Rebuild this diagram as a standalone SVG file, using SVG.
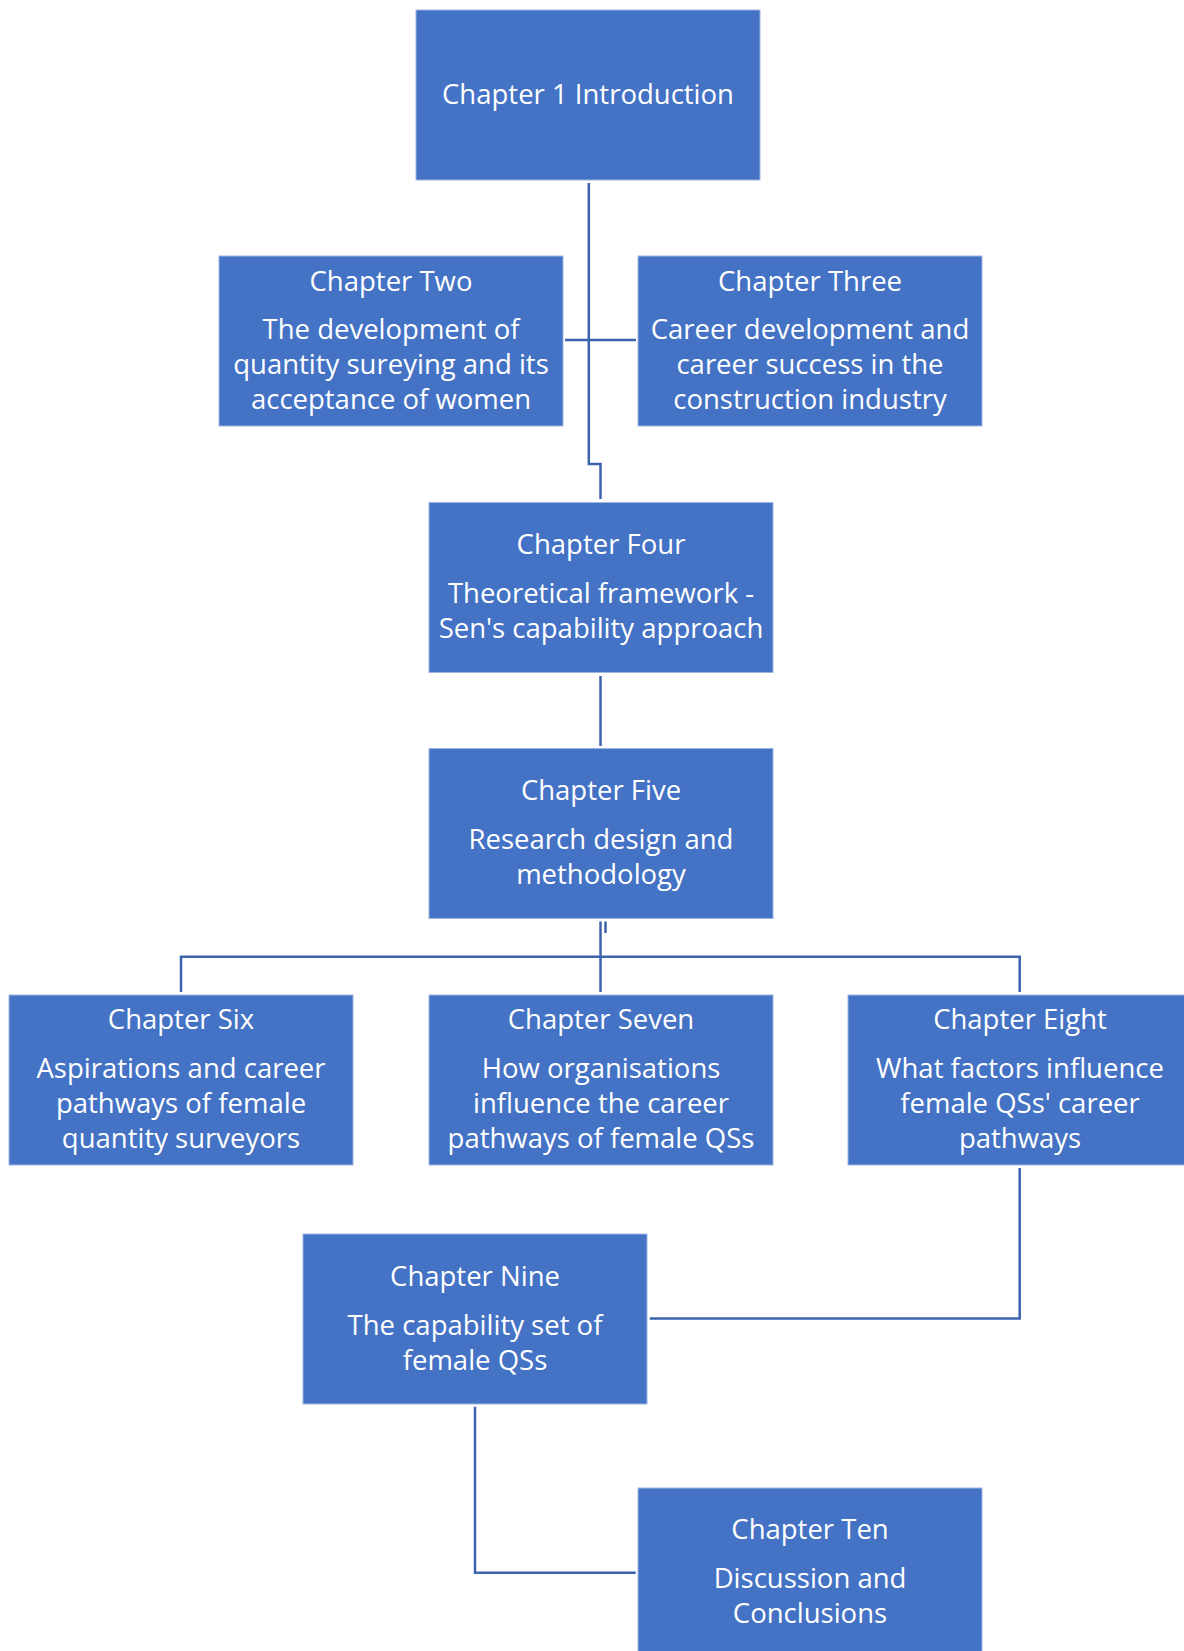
<svg xmlns="http://www.w3.org/2000/svg" width="1184" height="1651" viewBox="0 0 1184 1651">
<style>
.box{fill:#4472C4;stroke:#9DB5E2;stroke-width:1}
.t{font-family:"Open Sans","Noto Sans","Liberation Sans",sans-serif;font-size:27.5px;fill:#FFFFFF;text-anchor:middle}
.c{fill:none;stroke:#3C63AC;stroke-width:2.5}
</style>
<rect width="1184" height="1651" fill="#FFFFFF"/>
<g id="connectors">
<polyline class="c" points="588.8,183 588.8,464 600.5,464 600.5,499"/>
<line class="c" x1="565" y1="340" x2="636" y2="340"/>
<line class="c" x1="600.5" y1="676" x2="600.5" y2="746"/>
<line class="c" x1="600.5" y1="921.5" x2="600.5" y2="992"/>
<line class="c" x1="605.5" y1="921.5" x2="605.5" y2="933"/>
<polyline class="c" points="181,992 181,956.7 1019.7,956.7 1019.7,992"/>
<polyline class="c" points="1019.7,1168 1019.7,1318.5 649.8,1318.5"/>
<polyline class="c" points="475,1406.7 475,1572.7 635.7,1572.7"/>
</g>
<g id="ch1">
<rect class="box" x="416" y="10" width="344" height="170"/>
<text class="t" x="588" y="104">Chapter 1 Introduction</text>
</g>
<g id="ch2">
<rect class="box" x="219" y="256" width="344" height="170"/>
<text class="t" x="391" y="290.7">Chapter Two</text>
<text class="t" x="391" y="339.3">The development of</text>
<text class="t" x="391" y="374">quantity sureying and its</text>
<text class="t" x="391" y="409.3">acceptance of women</text>
</g>
<g id="ch3">
<rect class="box" x="638" y="256" width="344" height="170"/>
<text class="t" x="810" y="290.7">Chapter Three</text>
<text class="t" x="810" y="339.3">Career development and</text>
<text class="t" x="810" y="374">career success in the</text>
<text class="t" x="810" y="409.3">construction industry</text>
</g>
<g id="ch4">
<rect class="box" x="429" y="502.5" width="344" height="170"/>
<text class="t" x="601" y="554.3">Chapter Four</text>
<text class="t" x="601" y="603.3">Theoretical framework -</text>
<text class="t" x="601" y="638.3">Sen's capability approach</text>
</g>
<g id="ch5">
<rect class="box" x="429" y="748.5" width="344" height="170"/>
<text class="t" x="601" y="800">Chapter Five</text>
<text class="t" x="601" y="849.3">Research design and</text>
<text class="t" x="601" y="883.8">methodology</text>
</g>
<g id="ch6">
<rect class="box" x="9" y="995" width="344" height="170"/>
<text class="t" x="181" y="1029">Chapter Six</text>
<text class="t" x="181" y="1077.5">Aspirations and career</text>
<text class="t" x="181" y="1113">pathways of female</text>
<text class="t" x="181" y="1148">quantity surveyors</text>
</g>
<g id="ch7">
<rect class="box" x="429" y="995" width="344" height="170"/>
<text class="t" x="601" y="1029">Chapter Seven</text>
<text class="t" x="601" y="1077.5">How organisations</text>
<text class="t" x="601" y="1113">influence the career</text>
<text class="t" x="601" y="1148">pathways of female QSs</text>
</g>
<g id="ch8">
<rect class="box" x="848" y="995" width="344" height="170"/>
<text class="t" x="1020" y="1029">Chapter Eight</text>
<text class="t" x="1020" y="1077.5">What factors influence</text>
<text class="t" x="1020" y="1113">female QSs' career</text>
<text class="t" x="1020" y="1148">pathways</text>
</g>
<g id="ch9">
<rect class="box" x="303" y="1234" width="344" height="170"/>
<text class="t" x="475" y="1286">Chapter Nine</text>
<text class="t" x="475" y="1335">The capability set of</text>
<text class="t" x="475" y="1369.5">female QSs</text>
</g>
<g id="ch10">
<rect class="box" x="638" y="1488" width="344" height="170"/>
<text class="t" x="810" y="1538.5">Chapter Ten</text>
<text class="t" x="810" y="1587.5">Discussion and</text>
<text class="t" x="810" y="1622.5">Conclusions</text>
</g>
</svg>
